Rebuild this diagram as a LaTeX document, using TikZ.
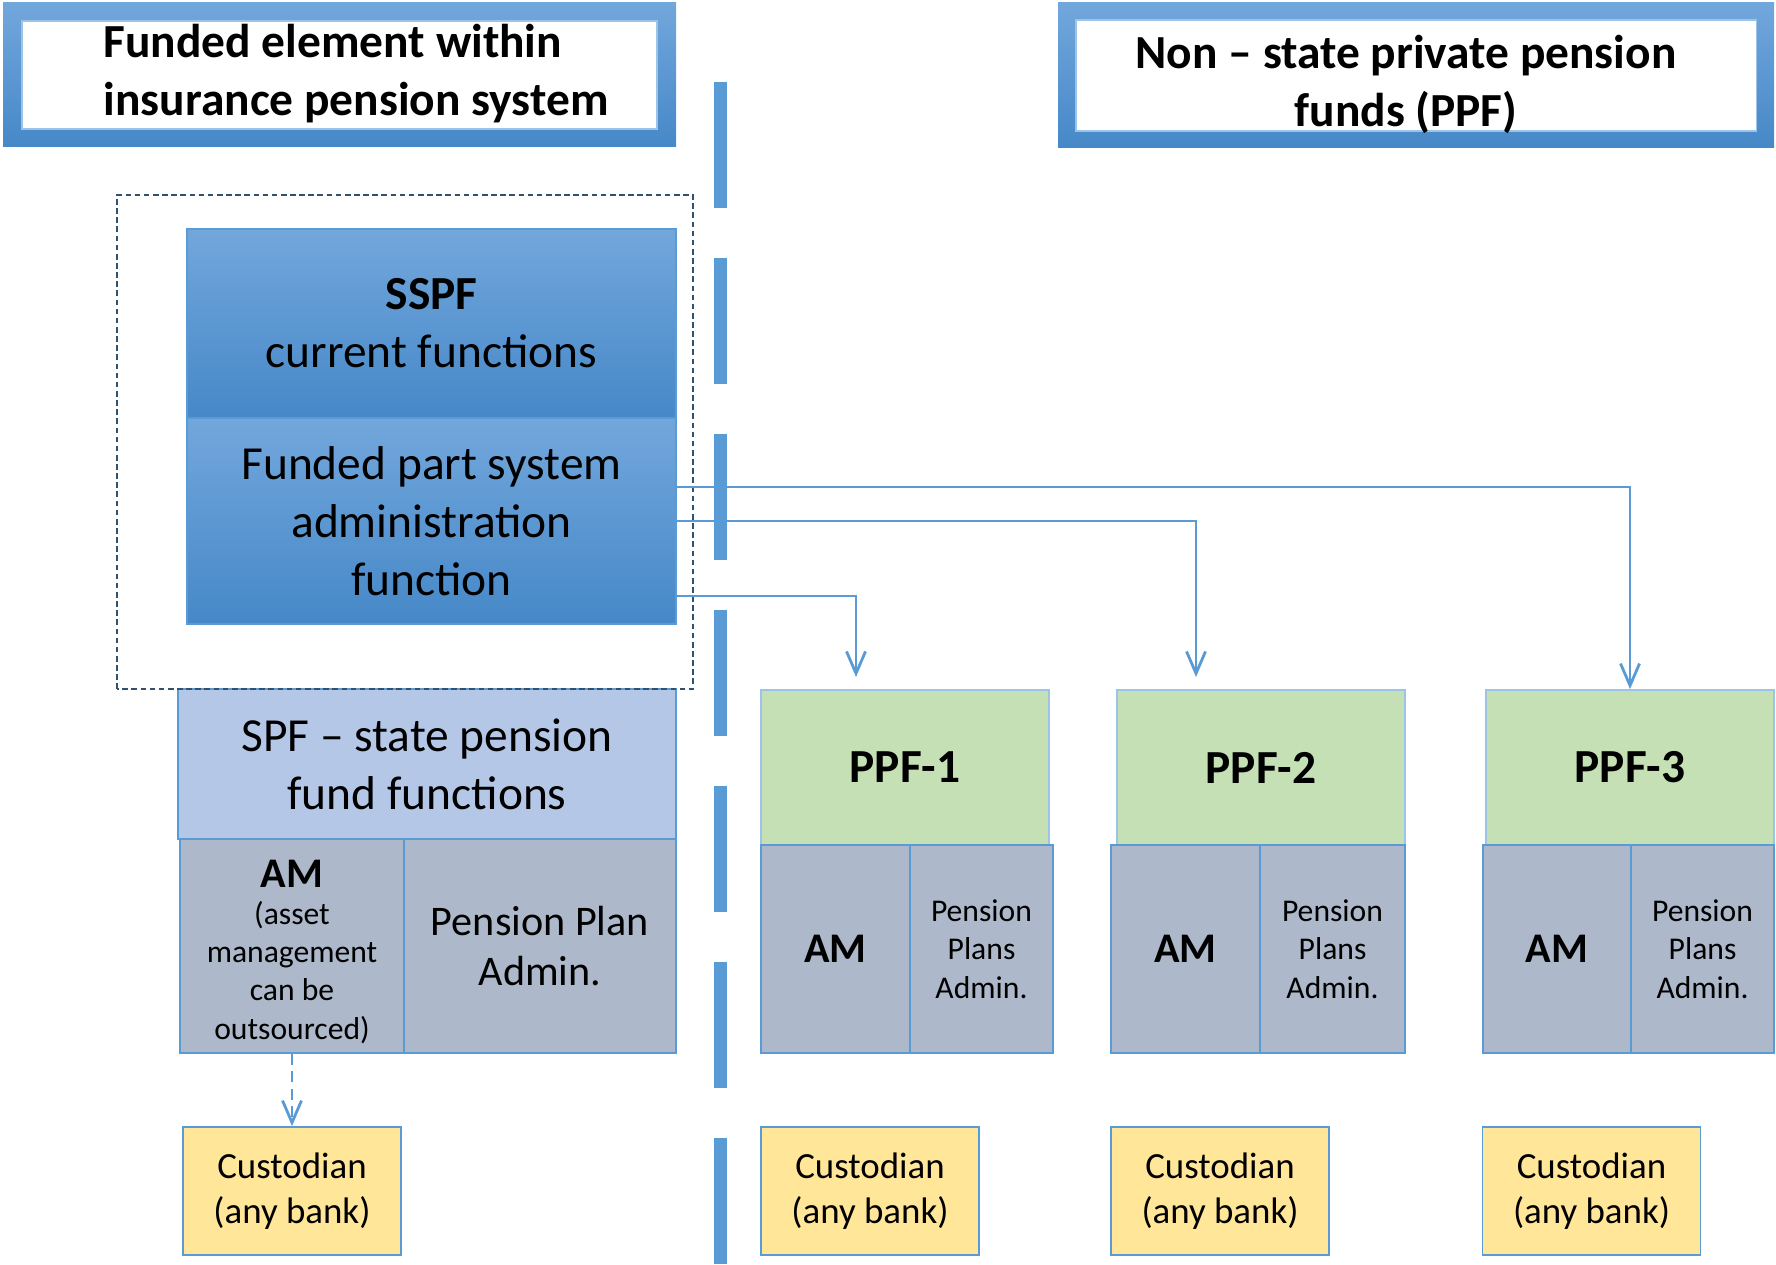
\documentclass[tikz,border=0pt]{standalone}
\usepackage{fontspec}
\setmainfont{Carlito}
\usepackage{xcolor}
\usetikzlibrary{arrows.meta, positioning, calc}

\definecolor{lineblue}{HTML}{5B9BD5}
\definecolor{frametop}{HTML}{72A7DC}
\definecolor{framebottom}{HTML}{4688C8}
\definecolor{spfblue}{HTML}{B4C7E7}
\definecolor{funcgray}{HTML}{ADB9CA}
\definecolor{ppfgreen}{HTML}{C5E0B4}
\definecolor{ppfline}{HTML}{9DC3E6}
\definecolor{custyellow}{HTML}{FFE699}
\definecolor{groupgray}{HTML}{34506F}

\newcommand{\bigfont}{\fontsize{13.5}{16.5}\selectfont}
\newcommand{\medfont}{\fontsize{12}{14}\selectfont}
\newcommand{\custfont}{\fontsize{10.5}{12.8}\selectfont}
\newcommand{\smallfont}{\fontsize{9}{10.9}\selectfont}

\tikzset{
	frame/.style={rectangle, top color=frametop, bottom color=framebottom, draw=none, inner sep=0pt},
	inner_white/.style={rectangle, fill=white, draw=ppfline, line width=0.3pt, inner sep=0pt},
	sspf_box/.style={rectangle, top color=frametop, bottom color=framebottom, draw=lineblue, line width=0.5pt, align=center, font=\bigfont},
	link/.style={draw=lineblue, line width=0.8pt, -{Straight Barb[length=2.2mm, width=1.9mm]}}
}

\begin{document}
\begin{tikzpicture}[
	spf_box/.style={rectangle, fill=spfblue, draw=lineblue, line width=0.5pt, align=center, font=\bigfont},
	func_box/.style={rectangle, fill=funcgray, draw=lineblue, line width=0.5pt, align=center},
	ppf_box/.style={rectangle, fill=ppfgreen, draw=ppfline, line width=0.5pt, font=\bigfont\bfseries},
	cust_box/.style={rectangle, fill=custyellow, draw=lineblue, line width=0.5pt, align=center, font=\custfont, minimum width=2.18cm, minimum height=1.28cm},
	separator/.style={draw=lineblue, line width=0.13cm, dash pattern=on 1.26cm off 0.5cm},
	group_frame/.style={draw=groupgray, line width=0.5pt, dash pattern=on 1.6pt off 1pt}
	]
	\useasboundingbox (0,0) rectangle (17.76,12.64);
	
	% Titles
	\node[frame, minimum width=6.73cm, minimum height=1.44cm] (left_frame) at (3.395,11.89) {};
	\node[inner_white, minimum width=6.35cm, minimum height=1.08cm] (left_title_box) at (left_frame.center) {};
	\node[anchor=west, inner sep=0pt, align=left, font=\bigfont\bfseries] (left_title) at (1.03,11.90) {Funded element within\\insurance pension system};
	
	\node[frame, minimum width=7.16cm, minimum height=1.45cm] (right_frame) at (14.16,11.885) {};
	\node[inner_white, minimum width=6.80cm, minimum height=1.11cm] (right_title_box) at (right_frame.center) {};
	\node[inner sep=0pt, align=center, font=\bigfont\bfseries] (right_title) at (14.06,11.80) {Non -- state private pension\\funds (PPF)};
	
	% Separator between the two parts
	\coordinate (separator_top) at (7.205,11.82);
	\coordinate (separator_bottom) at (7.205,0);
	\draw[separator] (separator_top) -- (separator_bottom);
	
	%
	% State side (left)
	%
	\node[sspf_box, minimum width=4.89cm, minimum height=1.89cm] (sspf_current) at (4.315,9.405) {\textbf{SSPF}\\current functions};
	\node[sspf_box, minimum width=4.89cm, minimum height=2.06cm] (fund_admin) at (4.315,7.43) {Funded part system\\administration\\function};
	
	\node[spf_box, minimum width=4.98cm, minimum height=1.50cm] (spf) at (4.27,5.00) {SPF -- state pension\\fund functions};
	\node[func_box, minimum width=2.24cm, minimum height=2.14cm, font=\smallfont] (spf_am) at (2.92,3.18) {};
	\node[align=center, font=\smallfont, inner sep=0pt] (spf_am_text) at ($(spf_am.center)+(0,-0.06)$) {{\medfont\bfseries AM}\\[-0.5pt](asset\\management\\can be\\outsourced)};
	\node[func_box, minimum width=2.72cm, minimum height=2.14cm, font=\medfont] (spf_admin) at (5.40,3.18) {Pension Plan\\Admin.};
	\node[cust_box] (spf_custodian) at (2.92,0.73) {Custodian\\(any bank)};
	
	% dashed group round the SSPF
	\draw[group_frame] (1.17,5.75) rectangle (6.93,10.69);
	
	% am may be outsourced to the custodian
	\draw[link, dash pattern=on 1.1mm off 0.65mm] (spf_am.south) -- (spf_custodian.north);
	
	%
	% Private side (right)
	%
	\node[ppf_box, minimum width=2.88cm, minimum height=1.55cm] (ppf_1) at (9.05,4.965) {PPF-1};
	\node[func_box, minimum width=1.49cm, minimum height=2.08cm, font=\medfont\bfseries] (ppf_1_am) at (8.355,3.15) {AM};
	\node[func_box, minimum width=1.43cm, minimum height=2.08cm, font=\smallfont] (ppf_1_admin) at (9.815,3.15) {Pension\\Plans\\Admin.};
	\node[cust_box] (ppf_1_custodian) at (8.70,0.73) {Custodian\\(any bank)};
	
	\node[ppf_box, minimum width=2.88cm, minimum height=1.55cm] (ppf_2) at (12.61,4.965) {PPF-2};
	\node[func_box, minimum width=1.49cm, minimum height=2.08cm, font=\medfont\bfseries] (ppf_2_am) at (11.855,3.15) {AM};
	\node[func_box, minimum width=1.45cm, minimum height=2.08cm, font=\smallfont] (ppf_2_admin) at (13.325,3.15) {Pension\\Plans\\Admin.};
	\node[cust_box] (ppf_2_custodian) at (12.20,0.73) {Custodian\\(any bank)};
	
	\node[ppf_box, minimum width=2.88cm, minimum height=1.55cm] (ppf_3) at (16.30,4.965) {PPF-3};
	\node[func_box, minimum width=1.48cm, minimum height=2.08cm, font=\medfont\bfseries] (ppf_3_am) at (15.57,3.15) {AM};
	\node[func_box, minimum width=1.43cm, minimum height=2.08cm, font=\smallfont] (ppf_3_admin) at (17.025,3.15) {Pension\\Plans\\Admin.};
	\node[cust_box] (ppf_3_custodian) at (15.915,0.73) {Custodian\\(any bank)};
	
	% links from the funded part administration to each PPF
	\coordinate (arrow_1_end) at (8.56,5.87);
	\coordinate (arrow_2_end) at (11.96,5.87);
	\draw[link] ($(fund_admin.east)+(0,0.34)$) -| (ppf_3.north);
	\draw[link] (fund_admin.east) -| (arrow_2_end);
	\draw[link] ($(fund_admin.east)+(0,-0.75)$) -| (arrow_1_end);
	
\end{tikzpicture}
\end{document}
